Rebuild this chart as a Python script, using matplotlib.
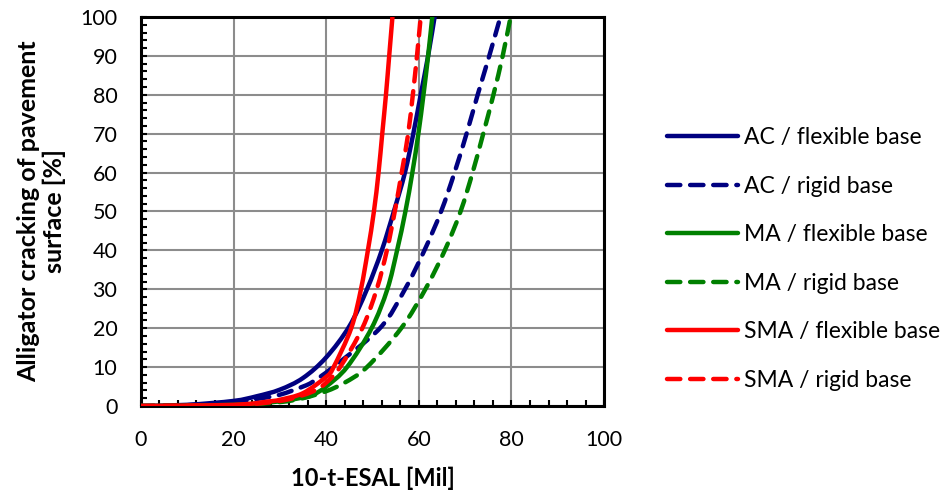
import matplotlib
matplotlib.use("Agg")
import matplotlib.pyplot as plt
import numpy as np
from matplotlib.lines import Line2D
from matplotlib.patches import PathPatch
from matplotlib.path import Path
from matplotlib.ticker import MultipleLocator

plt.rcParams["font.family"] = ["Lato", "DejaVu Sans"]

# series (x = 10-t-ESAL [Mil], y = cracking [%])
ac_flex_x = [0, 10, 20, 25, 30, 35, 40, 45, 48.8, 52.0, 54.6, 57, 58.8, 60.4, 62, 63.4]
ac_flex_y = [0, 0.3, 1.3, 2.5, 4.2, 7.2, 12.5, 20.5, 30, 40, 50, 60, 70, 80, 90, 100]

ac_rigid_x = [0, 10, 20, 25, 30, 35, 37.2, 41.5, 51.6, 57, 61.2, 64.8, 67.7, 70.3, 72.7, 75.2, 77.6]
ac_rigid_y = [0, 0.2, 1, 1.8, 2.9, 5, 6.3, 10, 20, 30, 40, 50, 60, 70, 80, 90, 100]

ma_flex_x = [0, 20, 30, 35, 37.2, 40, 44.5, 49.8, 53.2, 55.3, 57.1, 58.6, 59.9, 61.0, 62.0, 62.9]
ma_flex_y = [0, 0.3, 1.2, 2.2, 2.9, 5, 10, 20, 30, 40, 50, 60, 70, 80, 90, 100]

ma_rigid_x = [0, 20, 30, 35, 40, 44, 48.8, 56.2, 61.4, 65.6, 69.0, 71.6, 73.9, 76.1, 78.1, 79.8]
ma_rigid_y = [0, 0.2, 1, 2, 3.8, 6, 10, 20, 30, 40, 50, 60, 70, 80, 90, 100]

sma_flex_x = [0, 20, 27.8, 30, 35, 40, 41.6, 45.4, 47.5, 49.0, 50.3, 51.3, 52.1, 52.9, 53.6, 54.3]
sma_flex_y = [0, 0.3, 1.2, 1.6, 3.3, 7.5, 10, 20, 30, 40, 50, 60, 70, 80, 90, 100]

sma_rigid_x = [0, 20, 30, 35, 37.9, 40, 43, 47.8, 50.9, 53.1, 54.8, 56.3, 57.7, 58.7, 59.6, 60.4]
sma_rigid_y = [0, 0.2, 1.3, 2.8, 4.2, 6, 10, 20, 30, 40, 50, 60, 70, 80, 90, 100]

NAVY = "#000080"
GREEN = "#008000"
RED = "#FF0000"
DASH = (0, (3, 2.2))

series = [
    ("AC / flexible base", ac_flex_x, ac_flex_y, NAVY, "-"),
    ("AC / rigid base", ac_rigid_x, ac_rigid_y, NAVY, DASH),
    ("MA / flexible base", ma_flex_x, ma_flex_y, GREEN, "-"),
    ("MA / rigid base", ma_rigid_x, ma_rigid_y, GREEN, DASH),
    ("SMA / flexible base", sma_flex_x, sma_flex_y, RED, "-"),
    ("SMA / rigid base", sma_rigid_x, sma_rigid_y, RED, DASH),
]


def smooth_path(xs, ys):
    # Excel-style smoothed line: cubic bezier through the points (catmull-rom)
    p = np.column_stack([xs, ys]).astype(float)
    verts = [p[0]]
    codes = [Path.MOVETO]
    n = len(p)
    for i in range(n - 1):
        p0 = p[max(i - 1, 0)]
        p1, p2 = p[i], p[i + 1]
        p3 = p[min(i + 2, n - 1)]
        verts += [p1 + (p2 - p0) / 6, p2 - (p3 - p1) / 6, p2]
        codes += [Path.CURVE4] * 3
    return Path(verts, codes)


fig = plt.figure(figsize=(9.52, 4.93), dpi=100)
ax = fig.add_axes([0.148, 0.1765, 0.4866, 0.789])

handles = []
for label, xs, ys, color, ls in series:
    patch = PathPatch(smooth_path(xs, ys), facecolor="none", edgecolor=color,
                      linewidth=3.2, linestyle=ls, capstyle="round", zorder=3)
    ax.add_patch(patch)
    handles.append(Line2D([], [], color=color, linewidth=3.2, linestyle=ls,
                          solid_capstyle="round", dash_capstyle="round", label=label))

ax.set_xlim(0, 100)
ax.set_ylim(0, 100)
ax.xaxis.set_major_locator(MultipleLocator(20))
ax.yaxis.set_major_locator(MultipleLocator(10))
ax.xaxis.set_minor_locator(MultipleLocator(4))
ax.yaxis.set_minor_locator(MultipleLocator(2))
ax.grid(True, which="major", color="#8c8c8c", linewidth=1.5, zorder=0)
ax.set_axisbelow(True)

ax.tick_params(which="both", direction="in", width=1.5, labelsize=15.5)
ax.tick_params(which="major", length=4, pad=17)
ax.tick_params(which="minor", length=4)

for sp in ax.spines.values():
    sp.set_linewidth(2.2)
    sp.set_color("black")

ax.set_xlabel("10-t-ESAL [Mil]", fontsize=17, fontweight="bold", labelpad=12)
ax.set_ylabel("Alligator cracking of pavement\nsurface [%]", fontsize=18,
              fontweight="bold", labelpad=10, linespacing=1.15)

fig.legend(handles=handles, loc="center left", bbox_to_anchor=(0.679, 0.4746),
           frameon=False, fontsize=16.5, handlelength=3.1, handletextpad=0.26,
           labelspacing=1.2)

fig.savefig("out.png", dpi=100)
